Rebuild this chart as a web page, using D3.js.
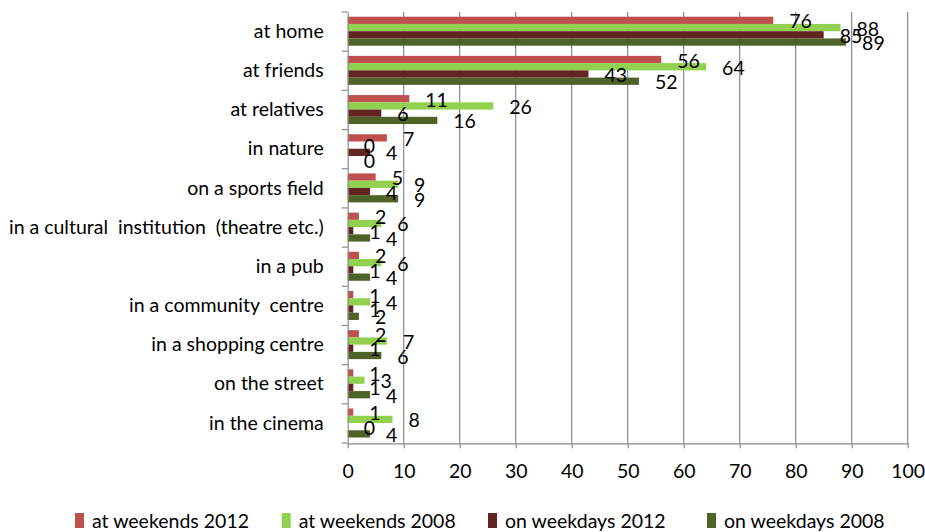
<!DOCTYPE html>
<html>
<head>
<meta charset="utf-8">
<script src="https://cdn.jsdelivr.net/npm/d3@7/dist/d3.min.js"></script>
<style>
  html, body { margin: 0; padding: 0; background: #fff; }
  svg { display: block; }
  text { font-family: Lato, "Open Sans", sans-serif; fill: #000; }
</style>
</head>
<body>
<svg id="chart" width="925" height="532"></svg>
<script>
// Places where time is spent, share of respondents (%)
const categories = [
  "at home",
  "at friends",
  "at relatives",
  "in nature",
  "on a sports field",
  "in a cultural  institution  (theatre etc.)",
  "in a pub",
  "in a community  centre",
  "in a shopping centre",
  "on the street",
  "in the cinema"
];
const seriesNames = ["at weekends 2012", "at weekends 2008", "on weekdays 2012", "on weekdays 2008"];
const seriesColors = ["#C0504D", "#92D050", "#632523", "#4F6228"];
const weekends2012 = [76, 56, 11, 7, 5, 2, 2, 1, 2, 1, 1];
const weekends2008 = [88, 64, 26, 0, 9, 6, 6, 4, 7, 3, 8];
const weekdays2012 = [85, 43, 6, 4, 4, 1, 1, 1, 1, 1, 0];
const weekdays2008 = [89, 52, 16, 0, 9, 4, 4, 2, 6, 4, 4];
const xTickValues = [0, 10, 20, 30, 40, 50, 60, 70, 80, 90, 100];

const seriesValues = [weekends2012, weekends2008, weekdays2012, weekdays2008];
const rows = categories.map((c, i) => ({
  category: c,
  values: seriesNames.map((s, k) => ({ series: s, k, value: seriesValues[k][i] }))
}));

const FONT = 19.5;
const gridColor = "#898989";
const svg = d3.select("#chart");

const x = d3.scaleLinear().domain([0, 100]).range([347.7, 907.7]);
const y = d3.scaleBand().domain(categories).range([12, 443]).paddingInner(0).paddingOuter(0);
const bw = y.bandwidth();
const inner = d3.scaleBand().domain(seriesNames).range([4.7, bw - 5.5]);

// vertical gridlines
svg.append("g")
  .selectAll("line")
  .data(xTickValues.filter(v => v > 0))
  .join("line")
  .attr("x1", d => x(d)).attr("x2", d => x(d))
  .attr("y1", 12).attr("y2", 443)
  .attr("stroke", gridColor).attr("stroke-width", 1.2);

// bars
const groups = svg.append("g")
  .selectAll("g")
  .data(rows)
  .join("g")
  .attr("transform", d => `translate(0,${y(d.category)})`);

groups.selectAll("rect")
  .data(d => d.values)
  .join("rect")
  .attr("x", x(0))
  .attr("y", d => inner(d.series))
  .attr("width", d => x(d.value) - x(0))
  .attr("height", inner.bandwidth())
  .attr("fill", d => seriesColors[d.k]);

// value labels
groups.selectAll("text.value")
  .data(d => d.values)
  .join("text")
  .attr("class", "value")
  .attr("x", d => x(d.value) + 16)
  .attr("y", d => inner(d.series) + inner.bandwidth() / 2 + 8)
  .attr("font-size", FONT)
  .text(d => d.value);

// x axis
const xAxis = svg.append("g")
  .attr("transform", "translate(0,443.3)")
  .call(d3.axisBottom(x).tickValues(xTickValues).tickSize(5).tickPadding(16).tickSizeOuter(0));
xAxis.select(".domain").attr("stroke", gridColor).attr("stroke-width", 1.2);
xAxis.selectAll(".tick line").attr("stroke", gridColor).attr("stroke-width", 1.2);
xAxis.selectAll(".tick text").attr("font-size", FONT).attr("font-family", "Lato, sans-serif").attr("fill", "#000");

// y axis with category labels
const yAxis = svg.append("g")
  .attr("transform", `translate(${x(0)},0)`)
  .call(d3.axisLeft(y).tickSize(0).tickPadding(24));
yAxis.select(".domain").attr("stroke", gridColor).attr("stroke-width", 1.2);
yAxis.selectAll(".tick text")
  .attr("font-size", FONT).attr("font-family", "Lato, sans-serif").attr("fill", "#000")
  .attr("dy", "0.32em")
  .style("white-space", "pre");

// category boundary ticks
svg.append("g")
  .selectAll("line")
  .data(d3.range(categories.length + 1))
  .join("line")
  .attr("x1", x(0) - 6).attr("x2", x(0))
  .attr("y1", i => 12 + i * bw).attr("y2", i => 12 + i * bw)
  .attr("stroke", gridColor).attr("stroke-width", 1.2);

// legend
const legendX = [75, 281.7, 488, 707];
const legend = svg.append("g").attr("transform", "translate(0,513)");
seriesNames.forEach((s, k) => {
  const item = legend.append("g").attr("transform", `translate(${legendX[k]},0)`);
  item.append("rect").attr("width", 9).attr("height", 15).attr("fill", seriesColors[k]);
  item.append("text").attr("x", 17).attr("y", 14.5).attr("font-size", FONT).text(s);
});
</script>
</body>
</html>
